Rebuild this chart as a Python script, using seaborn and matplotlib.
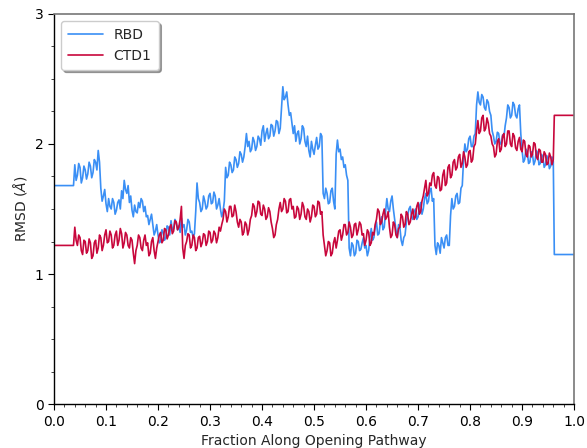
import numpy as np
import pandas as pd
import matplotlib
matplotlib.use("Agg")
import matplotlib.pyplot as plt
import seaborn as sns
from matplotlib.ticker import MultipleLocator

# flat segments before / after the sampled pathway
rbd_start, ctd_start = 1.68, 1.22
rbd_end, ctd_end = 1.15, 2.22

# sampled values, x = 0.040 ... 0.960 in steps of 0.0025
rbd_vals = [
    1.84, 1.72, 1.76, 1.85, 1.82, 1.70, 1.74, 1.83, 1.80, 1.73, 1.77, 1.86, 1.83, 1.74, 1.78, 1.88, 1.86, 1.80, 1.95, 1.86,
    1.66, 1.56, 1.60, 1.65, 1.54, 1.48, 1.58, 1.52, 1.50, 1.58, 1.55, 1.46, 1.49, 1.55, 1.57, 1.50, 1.64, 1.58, 1.72, 1.65,
    1.62, 1.68, 1.55, 1.60, 1.49, 1.44, 1.53, 1.48, 1.47, 1.55, 1.51, 1.58, 1.56, 1.48, 1.52, 1.44, 1.45, 1.38, 1.42, 1.46,
    1.38, 1.30, 1.33, 1.38, 1.30, 1.24, 1.25, 1.34, 1.32, 1.26, 1.28, 1.37, 1.36, 1.30, 1.41, 1.34, 1.35, 1.42, 1.40, 1.34,
    1.37, 1.32, 1.43, 1.36, 1.38, 1.30, 1.34, 1.42, 1.40, 1.32, 1.33, 1.28, 1.31, 1.48, 1.70, 1.58, 1.55, 1.48, 1.50, 1.60,
    1.56, 1.50, 1.52, 1.60, 1.62, 1.54, 1.55, 1.63, 1.60, 1.50, 1.53, 1.58, 1.50, 1.44, 1.48, 1.56, 1.82, 1.74, 1.76, 1.86,
    1.84, 1.78, 1.80, 1.90, 1.88, 1.82, 1.85, 1.94, 1.92, 1.86, 1.90, 1.98, 2.08, 1.98, 2.02, 1.94, 1.96, 2.05, 2.02, 1.95,
    1.98, 2.06, 2.04, 1.99, 2.10, 2.14, 2.02, 2.08, 2.12, 2.04, 2.06, 2.15, 2.14, 2.06, 2.10, 2.18, 2.17, 2.08, 2.12, 2.28,
    2.44, 2.34, 2.36, 2.40, 2.30, 2.22, 2.24, 2.16, 2.08, 2.14, 2.02, 2.08, 2.10, 2.00, 2.04, 2.14, 2.12, 2.02, 1.98, 2.06,
    1.95, 1.90, 2.02, 1.96, 1.92, 1.99, 2.05, 1.96, 1.98, 2.08, 2.06, 1.62, 1.58, 1.66, 1.62, 1.54, 1.55, 1.64, 1.66, 1.56,
    1.50, 1.92, 2.03, 1.94, 1.96, 1.88, 1.90, 1.82, 1.84, 1.76, 1.72, 1.20, 1.14, 1.24, 1.22, 1.14, 1.16, 1.26, 1.25, 1.18,
    1.19, 1.24, 1.28, 1.20, 1.22, 1.14, 1.18, 1.28, 1.35, 1.26, 1.28, 1.36, 1.40, 1.30, 1.31, 1.40, 1.44, 1.34, 1.36, 1.48,
    1.58, 1.50, 1.48, 1.56, 1.60, 1.50, 1.42, 1.34, 1.28, 1.38, 1.36, 1.26, 1.22, 1.28, 1.30, 1.40, 1.45, 1.50, 1.52, 1.44,
    1.42, 1.48, 1.50, 1.42, 1.44, 1.52, 1.55, 1.46, 1.50, 1.58, 1.62, 1.54, 1.56, 1.64, 1.66, 1.56, 1.58, 1.22, 1.15, 1.24,
    1.22, 1.16, 1.28, 1.24, 1.20, 1.28, 1.30, 1.22, 1.22, 1.45, 1.58, 1.50, 1.52, 1.60, 1.62, 1.54, 1.55, 1.66, 1.68, 1.88,
    2.00, 1.94, 1.96, 2.04, 2.06, 1.98, 1.98, 2.06, 2.08, 2.30, 2.40, 2.32, 2.30, 2.38, 2.36, 2.28, 2.26, 2.34, 2.32, 2.25,
    2.22, 2.10, 2.06, 2.00, 2.02, 2.09, 2.08, 2.00, 2.00, 2.07, 2.05, 2.14, 2.20, 2.30, 2.28, 2.20, 2.22, 2.32, 2.30, 2.22,
    2.20, 2.27, 2.30, 2.08, 1.95, 1.86, 1.88, 1.96, 1.94, 1.85, 1.86, 1.94, 1.92, 1.84, 1.87, 1.95, 1.93, 1.84, 1.85, 1.92,
    1.90, 1.82, 1.84, 1.91, 1.88, 1.81, 1.83, 1.90, 1.87,
]
ctd_vals = [
    1.36, 1.26, 1.22, 1.30, 1.28, 1.18, 1.15, 1.26, 1.25, 1.16, 1.18, 1.27, 1.24, 1.12, 1.14, 1.24, 1.26, 1.16, 1.20, 1.30,
    1.28, 1.18, 1.22, 1.30, 1.34, 1.24, 1.25, 1.33, 1.30, 1.20, 1.22, 1.30, 1.33, 1.22, 1.26, 1.35, 1.31, 1.20, 1.24, 1.32,
    1.30, 1.22, 1.20, 1.28, 1.26, 1.16, 1.08, 1.18, 1.22, 1.30, 1.28, 1.20, 1.18, 1.26, 1.30, 1.22, 1.24, 1.14, 1.16, 1.25,
    1.28, 1.18, 1.12, 1.20, 1.25, 1.30, 1.32, 1.24, 1.26, 1.35, 1.34, 1.27, 1.30, 1.36, 1.38, 1.31, 1.33, 1.41, 1.40, 1.34,
    1.36, 1.42, 1.52, 1.20, 1.12, 1.22, 1.25, 1.31, 1.30, 1.20, 1.22, 1.30, 1.28, 1.18, 1.20, 1.28, 1.29, 1.21, 1.24, 1.31,
    1.30, 1.22, 1.25, 1.33, 1.32, 1.24, 1.26, 1.33, 1.31, 1.24, 1.28, 1.36, 1.33, 1.38, 1.42, 1.50, 1.48, 1.40, 1.44, 1.52,
    1.52, 1.44, 1.45, 1.53, 1.48, 1.40, 1.36, 1.42, 1.40, 1.30, 1.32, 1.40, 1.38, 1.30, 1.34, 1.42, 1.45, 1.54, 1.52, 1.44,
    1.48, 1.56, 1.55, 1.46, 1.45, 1.53, 1.50, 1.42, 1.44, 1.51, 1.48, 1.40, 1.35, 1.28, 1.30, 1.38, 1.42, 1.50, 1.55, 1.48,
    1.50, 1.58, 1.56, 1.47, 1.48, 1.57, 1.58, 1.50, 1.52, 1.43, 1.44, 1.52, 1.50, 1.42, 1.46, 1.55, 1.52, 1.44, 1.42, 1.50,
    1.48, 1.40, 1.44, 1.53, 1.52, 1.44, 1.46, 1.56, 1.55, 1.46, 1.48, 1.30, 1.22, 1.14, 1.18, 1.25, 1.24, 1.14, 1.16, 1.24,
    1.28, 1.20, 1.26, 1.33, 1.34, 1.26, 1.30, 1.38, 1.38, 1.30, 1.32, 1.40, 1.36, 1.28, 1.30, 1.38, 1.39, 1.30, 1.34, 1.40,
    1.38, 1.30, 1.31, 1.22, 1.26, 1.34, 1.32, 1.22, 1.24, 1.32, 1.30, 1.38, 1.42, 1.50, 1.48, 1.38, 1.40, 1.46, 1.50, 1.42,
    1.44, 1.48, 1.36, 1.28, 1.30, 1.40, 1.38, 1.30, 1.28, 1.35, 1.36, 1.46, 1.44, 1.36, 1.38, 1.48, 1.46, 1.38, 1.40, 1.46,
    1.50, 1.42, 1.44, 1.52, 1.55, 1.46, 1.48, 1.56, 1.60, 1.66, 1.72, 1.60, 1.62, 1.70, 1.68, 1.76, 1.78, 1.68, 1.66, 1.75,
    1.74, 1.64, 1.65, 1.76, 1.80, 1.68, 1.70, 1.82, 1.84, 1.74, 1.76, 1.86, 1.88, 1.80, 1.82, 1.90, 1.92, 1.82, 1.85, 1.94,
    1.90, 1.82, 1.84, 1.94, 1.95, 1.86, 1.88, 1.98, 2.00, 2.10, 2.18, 2.08, 2.10, 2.20, 2.22, 2.10, 2.12, 2.20, 2.16, 2.08,
    2.06, 2.00, 1.98, 1.90, 1.92, 2.02, 2.04, 1.94, 1.96, 2.06, 2.08, 1.98, 2.00, 2.10, 2.10, 2.00, 1.98, 2.08, 2.06, 1.97,
    1.95, 2.02, 2.05, 1.96, 1.94, 2.03, 2.02, 1.92, 1.90, 1.99, 1.98, 1.90, 1.92, 2.01, 2.00, 1.90, 1.88, 1.96, 1.95, 1.86,
    1.86, 1.94, 1.92, 1.84, 1.85, 1.93, 1.90, 1.84, 1.88,
]

labels = ["RBD", "CTD1"]
colors = {"RBD": "#3a8ff5", "CTD1": "#c8073c"}

n = len(rbd_vals)
x_mid = 0.04 + 0.0025 * np.arange(n)
x_all = np.concatenate([[0.0, 0.0375], x_mid, [x_mid[-1] + 0.002, 1.0]])
rbd_all = [rbd_start, rbd_start] + rbd_vals + [rbd_end, rbd_end]
ctd_all = [ctd_start, ctd_start] + ctd_vals + [ctd_end, ctd_end]

df = pd.DataFrame({
    "x": np.concatenate([x_all, x_all]),
    "y": rbd_all + ctd_all,
    "series": [labels[0]] * len(x_all) + [labels[1]] * len(x_all),
})

sns.set_style("ticks")
plt.rcParams["font.family"] = ["DejaVu Sans"]

fig = plt.figure(figsize=(5.87, 4.48), dpi=100)
ax = fig.add_axes([0.092, 0.098, 0.886, 0.871])

sns.lineplot(data=df, x="x", y="y", hue="series", palette=colors,
             estimator=None, sort=False, linewidth=1.2, ax=ax)

ax.set_xlim(0, 1)
ax.set_ylim(0, 3)
ax.xaxis.set_major_locator(MultipleLocator(0.1))
ax.xaxis.set_minor_locator(MultipleLocator(0.02))
ax.yaxis.set_major_locator(MultipleLocator(1))
ax.yaxis.set_minor_locator(MultipleLocator(0.25))
ax.set_xticklabels([f"{v:.1f}" for v in ax.get_xticks()])
ax.tick_params(axis="both", which="major", length=4, labelsize=10, colors="black")
ax.tick_params(axis="both", which="minor", length=2)
ax.set_xlabel("Fraction Along Opening Pathway", fontsize=10)
ax.set_ylabel(r"RMSD ($\AA$)", fontsize=10)

for side in ["left", "bottom"]:
    ax.spines[side].set_color("black")
    ax.spines[side].set_linewidth(1.0)
for side in ["top", "right"]:
    ax.spines[side].set_visible(True)
    ax.spines[side].set_color("#777777")
    ax.spines[side].set_linewidth(1.2)

leg = ax.legend(loc="upper left", frameon=True, fancybox=True, shadow=True,
                fontsize=10, title=None, borderpad=0.5, handlelength=2.5)

fig.savefig("out.png", dpi=100)
